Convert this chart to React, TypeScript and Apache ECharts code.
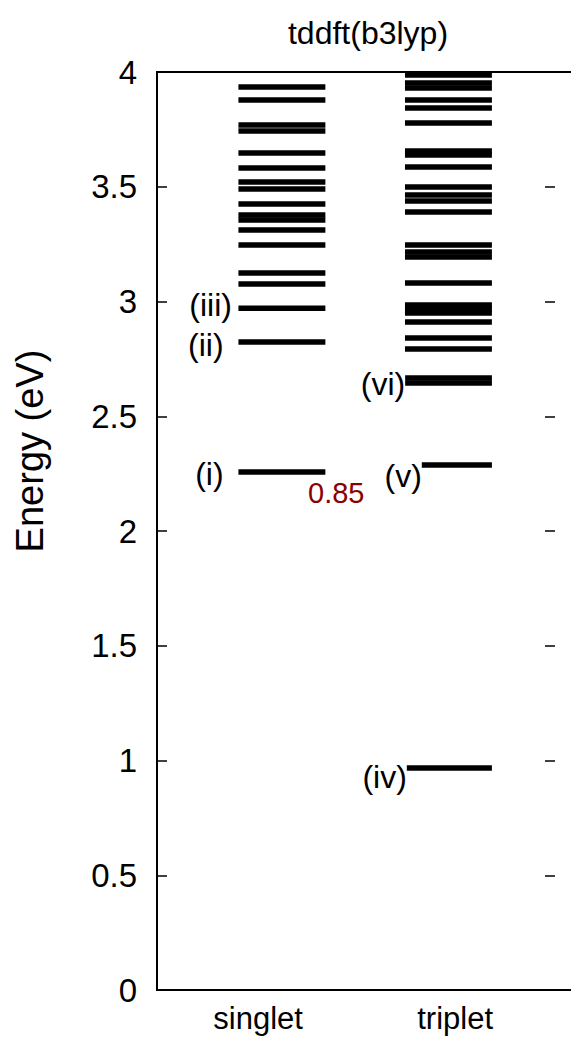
import { useEffect, useRef } from "react";
import * as echarts from "echarts";

// Data
const columnNames = ["singlet", "triplet"];
const columnPositions = [1, 2];
const columnLabelPositions = [0.857, 2.04];
const singletEnergies = [
  3.935, 3.878, 3.769, 3.743, 3.647, 3.582, 3.521, 3.49, 3.425, 3.377, 3.355,
  3.312, 3.246, 3.124, 3.076, 2.971, 2.824, 2.257,
];
const tripletEnergies = [
  3.987, 3.952, 3.93, 3.878, 3.843, 3.778, 3.656, 3.638, 3.586, 3.499, 3.464,
  3.438, 3.39, 3.246, 3.216, 3.194, 3.081, 2.985, 2.967, 2.95, 2.911, 2.841,
  2.793, 2.667, 2.645, 2.288, 0.967,
];
const stateLabels = ["(i)", "(ii)", "(iii)", "(iv)", "(v)", "(vi)"];
const stateLabelX = [0.65, 0.65, 0.7, 1.75, 1.84, 1.74];
const stateLabelEnergy = [2.25, 2.81, 2.985, 0.93, 2.24, 2.64];
const oscLabels = ["0.85"];
const oscLabelX = [1.157];
const oscLabelEnergy = [2.165];

const FONT = "Liberation Sans, Arial, sans-serif";
const HALF = 0.261;

export default function App() {
  const ref = useRef<HTMLDivElement>(null);
  useEffect(() => {
    document.body.style.margin = "0";
    const chart = echarts.init(ref.current!, null, { renderer: "svg" });
    const levelItem = (params: any, api: any) => {
      const x = api.value(0);
      const e = api.value(1);
      const p1 = api.coord([x - HALF, e]);
      const p2 = api.coord([x + HALF, e]);
      return {
        type: "line",
        shape: { x1: p1[0], y1: p1[1], x2: p2[0], y2: p2[1] },
        style: { stroke: "#000", lineWidth: 5.5 },
      };
    };
    chart.setOption({
      animation: false,
      backgroundColor: "#fff",
      title: {
        text: "tddft(b3lyp)",
        left: 363,
        top: 12,
        textAlign: "center",
        textStyle: { fontSize: 32, fontWeight: "normal", color: "#000", fontFamily: FONT },
      },
      grid: {
        left: 157,
        top: 72,
        width: 433,
        height: 918,
        outerBoundsMode: "none",
        containLabel: false,
        show: true,
        borderColor: "#000",
        borderWidth: 2,
        backgroundColor: "transparent",
      },
      xAxis: {
        type: "value",
        min: 0.25,
        max: 2.85,
        axisLine: { show: true, lineStyle: { color: "#000", width: 2 } },
        axisTick: { show: false },
        splitLine: { show: false },
        axisLabel: {
          customValues: columnLabelPositions,
          formatter: (v: number) => columnNames[columnLabelPositions.indexOf(v)] ?? "",
          fontSize: 31,
          lineHeight: 34,
          color: "#000",
          fontFamily: FONT,
          margin: 11,
        },
      },
      yAxis: [
        {
          type: "value",
          min: 0,
          max: 4,
          interval: 0.5,
          name: "Energy (eV)",
          nameLocation: "middle",
          nameRotate: 90,
          nameGap: 108,
          nameTextStyle: { fontSize: 38, color: "#000", fontFamily: FONT, padding: [0, 0, 0, 160] },
          axisLine: { show: true, lineStyle: { color: "#000", width: 2 } },
          axisTick: { show: true, inside: true, length: 10, lineStyle: { color: "#000", width: 1.5 } },
          splitLine: { show: false },
          axisLabel: {
            fontSize: 33,
            color: "#000",
            fontFamily: FONT,
            margin: 20,
            formatter: (v: number) => String(v),
          },
        },
        {
          type: "value",
          min: 0,
          max: 4,
          interval: 0.5,
          position: "right",
          offset: -35,
          axisLine: { show: false },
          axisTick: { show: true, inside: true, length: 10, lineStyle: { color: "#000", width: 1.5 } },
          axisLabel: { show: false },
          splitLine: { show: false },
        },
      ],
      series: [
        {
          name: "singlet",
          type: "custom",
          renderItem: levelItem,
          data: singletEnergies.map((e) => [columnPositions[0], e]),
          clip: false,
        },
        {
          name: "triplet",
          type: "custom",
          renderItem: levelItem,
          data: tripletEnergies.map((e) => [columnPositions[1], e]),
          clip: false,
        },
        {
          name: "states",
          type: "custom",
          z: 5,
          renderItem: (params: any, api: any) => {
            const p = api.coord([api.value(0), api.value(1)]);
            return {
              type: "text",
              x: p[0],
              y: p[1],
              style: {
                text: stateLabels[params.dataIndex],
                fontSize: 32,
                fontFamily: FONT,
                fill: "#000",
                align: "right",
                verticalAlign: "middle",
                backgroundColor: "#fff",
              },
            };
          },
          data: stateLabels.map((_, i) => [stateLabelX[i], stateLabelEnergy[i]]),
        },
        {
          name: "osc",
          type: "custom",
          z: 5,
          renderItem: (params: any, api: any) => {
            const p = api.coord([api.value(0), api.value(1)]);
            return {
              type: "text",
              x: p[0],
              y: p[1],
              style: {
                text: oscLabels[params.dataIndex],
                fontSize: 29,
                fontFamily: FONT,
                fill: "#8b0000",
                align: "left",
                verticalAlign: "middle",
              },
            };
          },
          data: oscLabels.map((_, i) => [oscLabelX[i], oscLabelEnergy[i]]),
        },
      ],
    });
    return () => chart.dispose();
  }, []);
  return <div ref={ref} style={{ width: 571, height: 1037 }} />;
}
